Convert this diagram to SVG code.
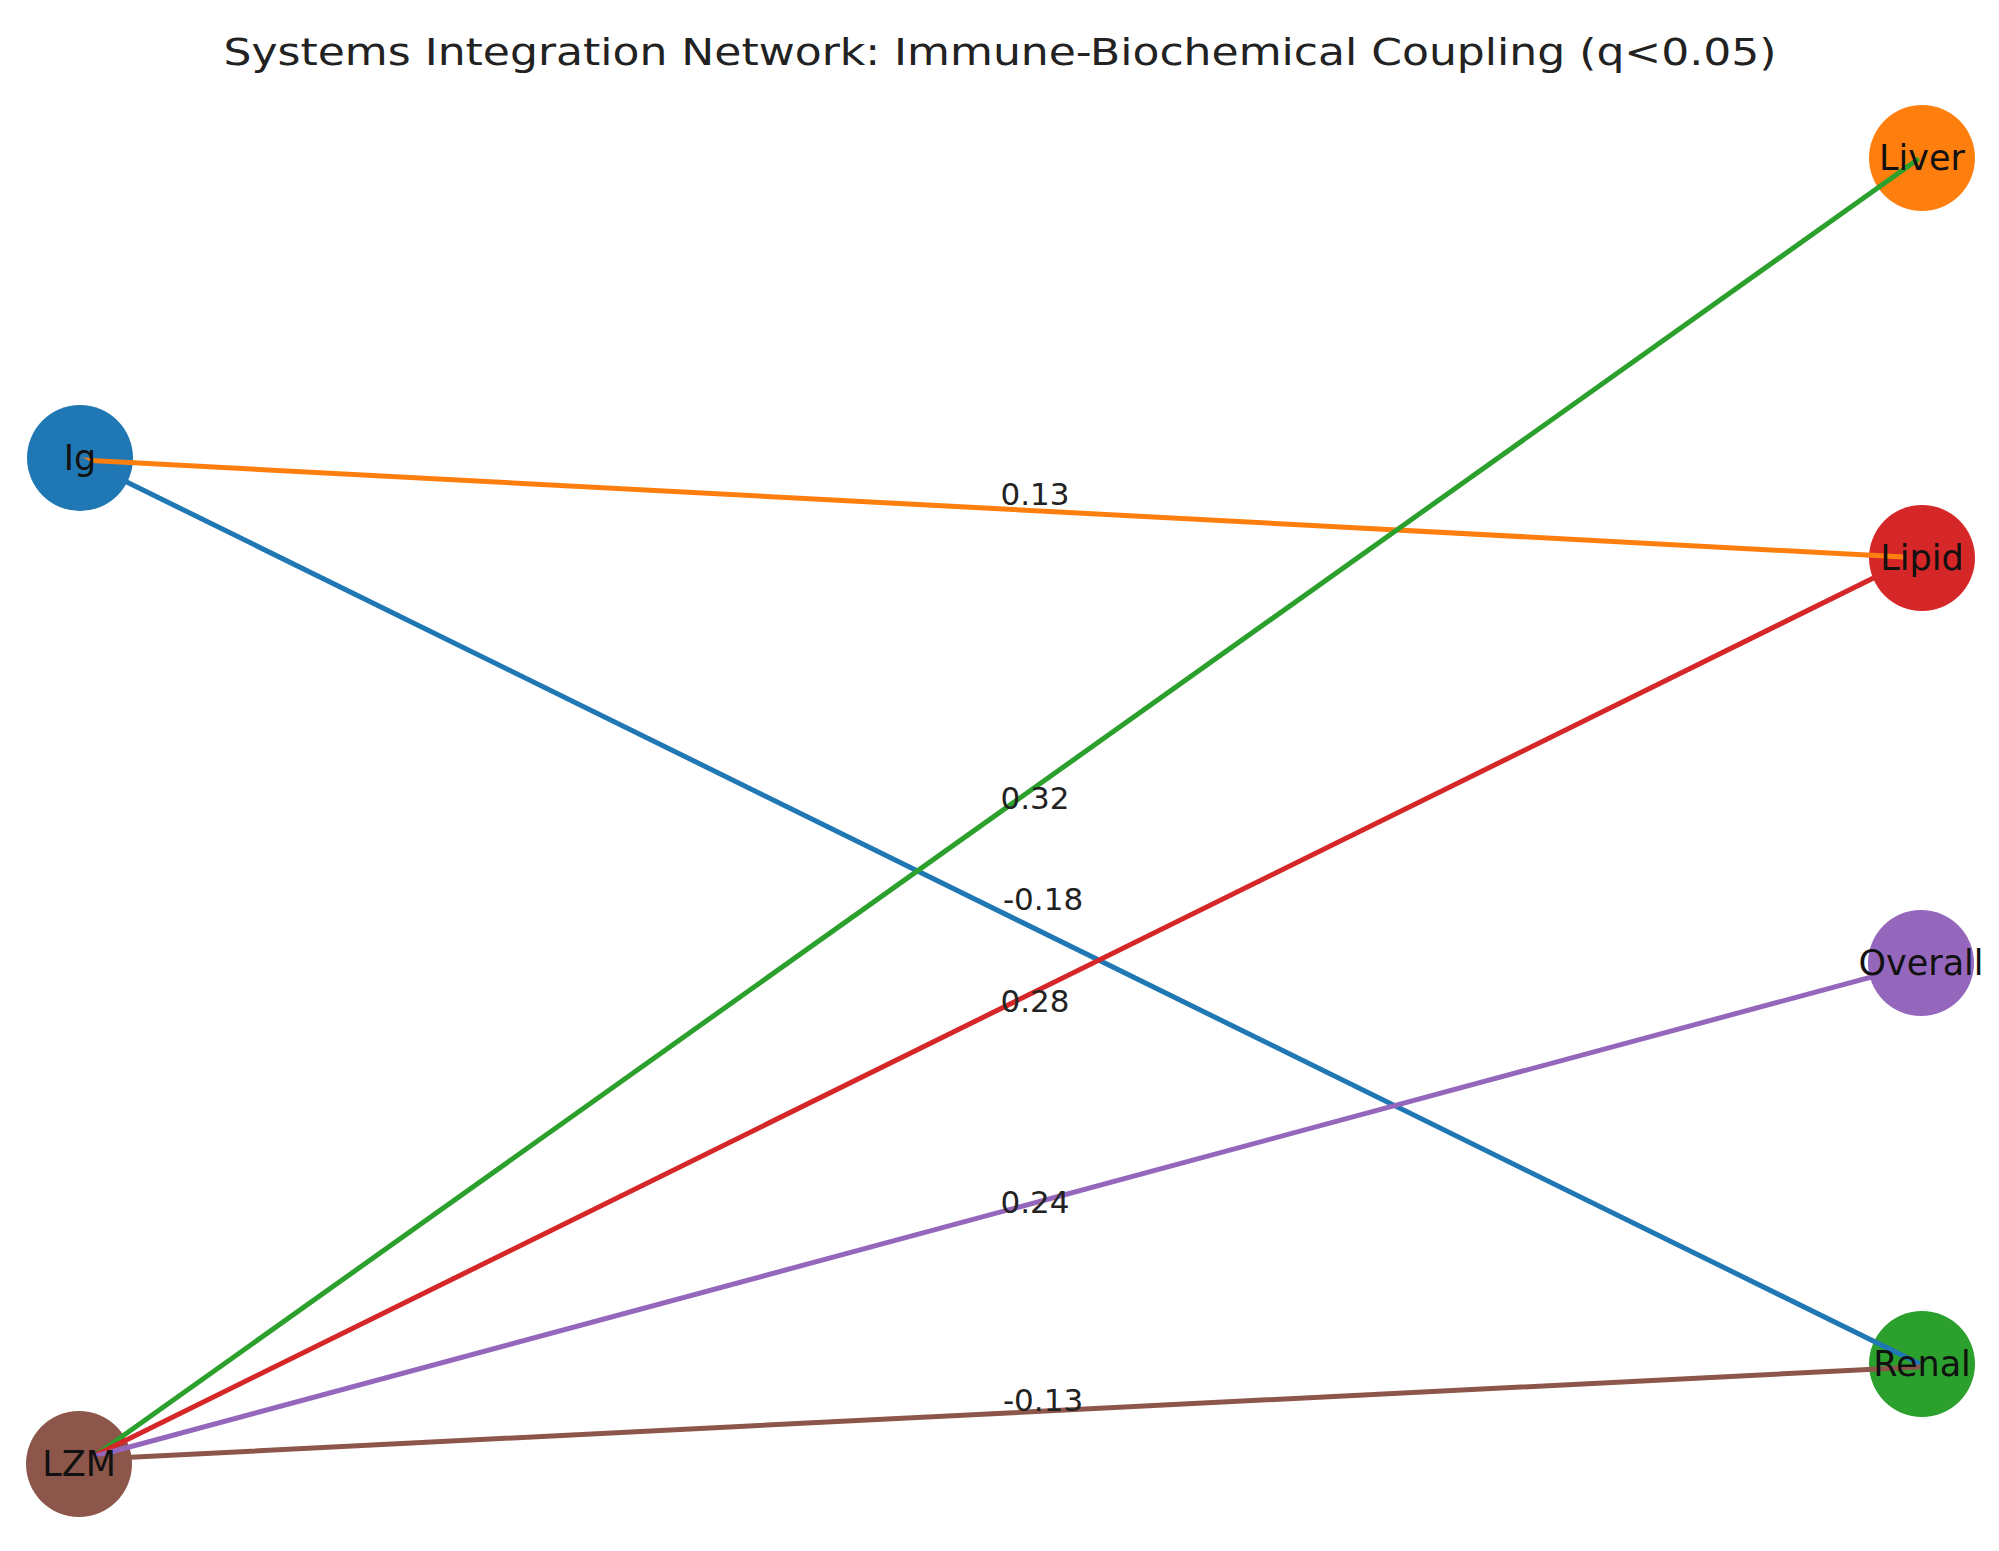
<svg xmlns="http://www.w3.org/2000/svg" width="1999" height="1551" viewBox="0 0 1999 1551">
<style>
.edge{fill:none;stroke-width:5;stroke-linecap:round}
.node text{font-family:"DejaVu Sans",sans-serif;font-size:35px;fill:#111;text-anchor:middle;dominant-baseline:central}
.elabel{font-family:"DejaVu Sans",sans-serif;font-size:31px;fill:#222;text-anchor:middle;dominant-baseline:central}
.title{font-family:"DejaVu Sans Condensed","DejaVu Sans",sans-serif;font-size:38px;fill:#222;text-anchor:middle}
</style>
<rect width="1999" height="1551" fill="#ffffff"/>
<text class="title" x="1000" y="65" textLength="1553" lengthAdjust="spacingAndGlyphs">Systems Integration Network: Immune-Biochemical Coupling (q&lt;0.05)</text>
<g id="nodes-circles">
<g id="node-Ig" class="node"><circle cx="80" cy="458" r="53" fill="#1f77b4"/></g>
<g id="node-LZM" class="node"><circle cx="79" cy="1464" r="53" fill="#8c564b"/></g>
<g id="node-Liver" class="node"><circle cx="1922" cy="158" r="53" fill="#ff7f0e"/></g>
<g id="node-Lipid" class="node"><circle cx="1922" cy="558" r="53" fill="#d62728"/></g>
<g id="node-Overall" class="node"><circle cx="1921" cy="963" r="53" fill="#9467bd"/></g>
<g id="node-Renal" class="node"><circle cx="1922" cy="1364" r="53" fill="#2ca02c"/></g>
</g>
<g id="connectors">
<line class="edge" x1="82" y1="460" x2="1904" y2="557" stroke="#ff7f0e"/>
<line class="edge" x1="82" y1="460" x2="1918" y2="1363" stroke="#1f77b4"/>
<line class="edge" x1="96" y1="1455" x2="1917" y2="160" stroke="#2ca02c"/>
<line class="edge" x1="96" y1="1455" x2="1910" y2="560" stroke="#d62728"/>
<line class="edge" x1="96" y1="1456" x2="1916" y2="965" stroke="#9467bd"/>
<line class="edge" x1="96" y1="1459" x2="1918" y2="1367" stroke="#8c564b"/>
</g>
<g id="edge-labels">
<text class="elabel" x="1035" y="494">0.13</text>
<text class="elabel" x="1035" y="798">0.32</text>
<text class="elabel" x="1043" y="899">-0.18</text>
<text class="elabel" x="1035" y="1001">0.28</text>
<text class="elabel" x="1035" y="1202">0.24</text>
<text class="elabel" x="1043" y="1400">-0.13</text>
</g>
<g id="node-labels" class="node">
<text x="80" y="458">Ig</text>
<text x="79" y="1464">LZM</text>
<text x="1922" y="158">Liver</text>
<text x="1922" y="558">Lipid</text>
<text x="1921" y="963">Overall</text>
<text x="1922" y="1364">Renal</text>
</g>
</svg>
